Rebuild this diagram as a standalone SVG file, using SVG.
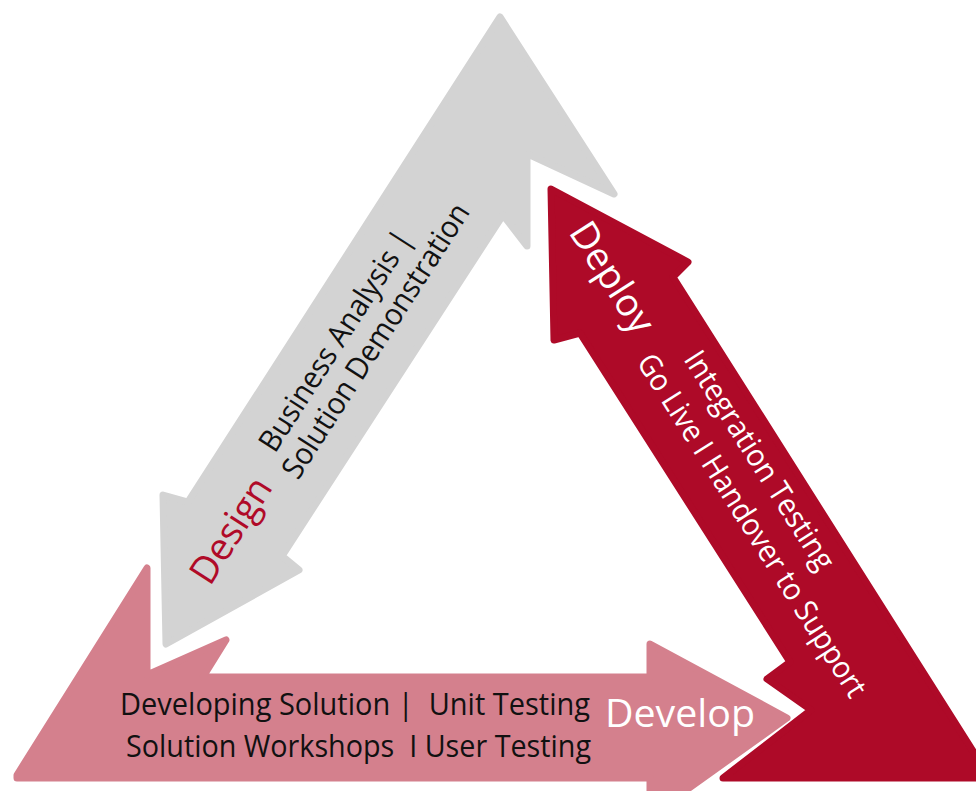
<svg xmlns="http://www.w3.org/2000/svg" width="976" height="791" viewBox="0 0 976 791">
<style>
  .shape{stroke-width:7;stroke-linejoin:round}
  .gray{fill:#d3d3d3;stroke:#d3d3d3}
  .pink{fill:#d4808d;stroke:#d4808d}
  .red{fill:#ae0a28;stroke:#ae0a28}
  text{font-family:"Open Sans","Noto Sans","Liberation Sans",sans-serif}
  .big{font-size:38px}
  .small{font-size:30.5px}
  .dark{fill:#111111}
  .white{fill:#ffffff}
  .redtxt{fill:#b00a28}
</style>
<rect width="976" height="791" fill="#ffffff"/>
<g id="node-design">
  <polygon class="shape gray" points="500,17 614,194 530,155 527,155 527,246 503,215 282,556 299,570 166,644 163,495 188,502"/>
  <text class="big redtxt" transform="translate(210,587) rotate(-57.4)" textLength="118" lengthAdjust="spacingAndGlyphs">Design</text>
  <text class="small dark" transform="translate(275,454) rotate(-57.3)" textLength="256" lengthAdjust="spacingAndGlyphs">Business Analysis |</text>
  <text class="small dark" transform="translate(298,481) rotate(-57.3)" textLength="320" lengthAdjust="spacingAndGlyphs">Solution Demonstration</text>
</g>
<g id="node-develop">
  <polygon class="shape pink" points="17,775 147,568 147,675 226,640 203,677 650,677 650,644 787,718 650,816 650,778 17,778"/>
  <text class="dark" font-size="31" x="120" y="715" xml:space="preserve" textLength="470" lengthAdjust="spacingAndGlyphs">Developing Solution |  Unit Testing</text>
  <text class="dark" font-size="31" x="126" y="757" xml:space="preserve" textLength="465" lengthAdjust="spacingAndGlyphs">Solution Workshops  I User Testing</text>
  <text class="big white" x="605" y="727" textLength="150" lengthAdjust="spacingAndGlyphs">Develop</text>
</g>
<g id="node-deploy">
  <polygon class="shape red" points="551,189 688,262 673,277 990,778 723,778 811,710 767,679 790,662 580,333 554,340"/>
  <text class="big white" transform="translate(568,232) rotate(57.5)" textLength="124" lengthAdjust="spacingAndGlyphs">Deploy</text>
  <text class="small white" transform="translate(683,359) rotate(57.6)" textLength="253" lengthAdjust="spacingAndGlyphs">Integration Testing</text>
  <text class="small white" transform="translate(636,362) rotate(57.6)" textLength="400" lengthAdjust="spacingAndGlyphs">Go Live I Handover to Support</text>
</g>
<g id="connectors"></g>
</svg>
